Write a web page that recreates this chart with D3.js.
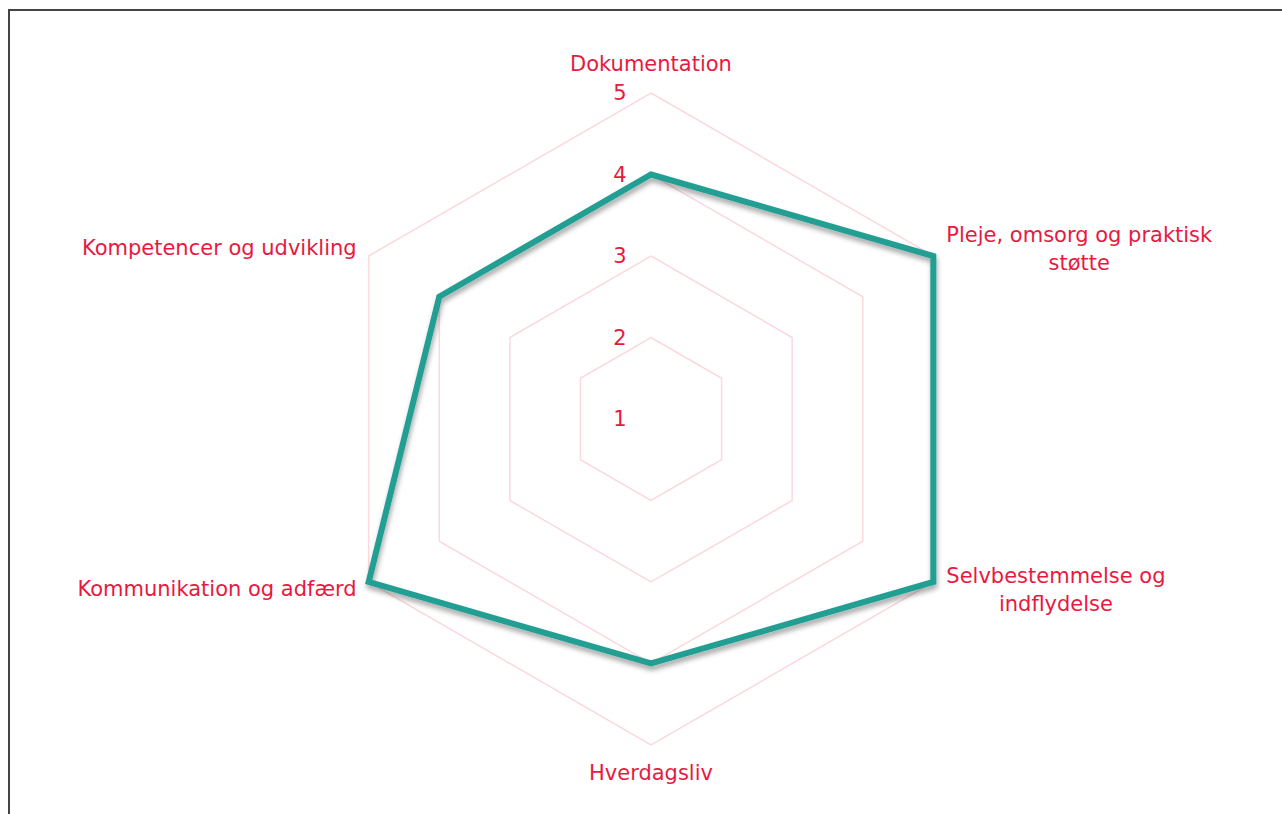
<!DOCTYPE html>
<html><head><meta charset="utf-8">
<script src="https://cdn.jsdelivr.net/npm/d3@7"></script>
<style>
html,body{margin:0;padding:0;background:#fff;overflow:hidden}
#frame{position:absolute;left:8px;top:9px;width:1400px;height:900px;border-left:2px solid #444;border-top:2px solid #444}
svg{position:absolute;left:0;top:0}
text{font-family:"DejaVu Sans",sans-serif;fill:#e8193f}
</style></head>
<body><div id="frame"></div><svg id="chart" width="1282" height="814"></svg>
<script>
const categories = ["Dokumentation","Pleje, omsorg og praktisk støtte","Selvbestemmelse og indflydelse","Hverdagsliv","Kommunikation og adfærd","Kompetencer og udvikling"];
const values = [4,5,5,4,5,4];
const tickLabels = [1,2,3,4,5];

const svg = d3.select("#chart");
const cx = 651, cy = 419, R = 326;
const r = d3.scaleLinear().domain([1,5]).range([0,R]);
const n = categories.length;
const ang = i => -Math.PI/2 + i*2*Math.PI/n;
const pt = (i,v) => [cx + r(v)*Math.cos(ang(i)), cy + r(v)*Math.sin(ang(i))];

const defs = svg.append("defs");
const f = defs.append("filter").attr("id","sh").attr("x","-10%").attr("y","-10%").attr("width","120%").attr("height","130%");
f.append("feDropShadow").attr("dx",1).attr("dy",4).attr("stdDeviation",2.5).attr("flood-color","#000").attr("flood-opacity",0.35);

// grid
const line = d3.line();
tickLabels.slice(1).forEach(t=>{
  svg.append("path").attr("d", line(d3.range(n).map(i=>pt(i,t)))+"Z")
    .attr("fill","none").attr("stroke","#fbd9dd").attr("stroke-width",1.5);
});
// tick labels
const FS = 21;
tickLabels.forEach(t=>{
  svg.append("text").attr("x",cx-31).attr("y",cy - r(t)).attr("dy","0.35em")
    .attr("text-anchor","middle").attr("font-size",FS).text(t);
});
// data
svg.append("path").attr("d", line(values.map((v,i)=>pt(i,v)))+"Z")
  .attr("fill","none").attr("stroke","#249e93").attr("stroke-width",6)
  .attr("stroke-linejoin","miter").attr("filter","url(#sh)");

// labels
const lh = 28, maxW = 290;
categories.forEach((c,i)=>{
  const [vx,vy] = pt(i,5);
  const g = svg.append("g");
  const words = c.split(" ");
  const lines = [];
  let cur = "";
  const tmp = g.append("text").attr("font-size",FS);
  words.forEach(w=>{
    const test = cur ? cur+" "+w : w;
    tmp.text(test);
    if (tmp.node().getComputedTextLength() > maxW && cur){ lines.push(cur); cur = w; } else cur = test;
  });
  lines.push(cur);
  const widths = lines.map(l=>{tmp.text(l); return tmp.node().getComputedTextLength();});
  tmp.remove();
  const bw = d3.max(widths);
  const cosA = Math.cos(ang(i)), sinA = Math.sin(ang(i));
  let centerX, centerY;
  if (Math.abs(cosA) < 0.01) {
    centerX = vx;
    centerY = sinA < 0 ? vy - 29 - (lines.length-1)*lh/2 : vy + 28 + (lines.length-1)*lh/2;
  } else if (cosA > 0) {
    centerX = vx + 13 + bw/2;
    centerY = vy + (sinA < 0 ? -7 : 8);
  } else {
    centerX = vx - 12 - bw/2;
    centerY = vy + (sinA < 0 ? -8 : 7);
  }
  lines.forEach((l,k)=>{
    g.append("text").attr("x",centerX).attr("y",centerY + (k-(lines.length-1)/2)*lh)
      .attr("dy","0.35em").attr("text-anchor","middle").attr("font-size",FS).text(l);
  });
});
</script></body></html>
